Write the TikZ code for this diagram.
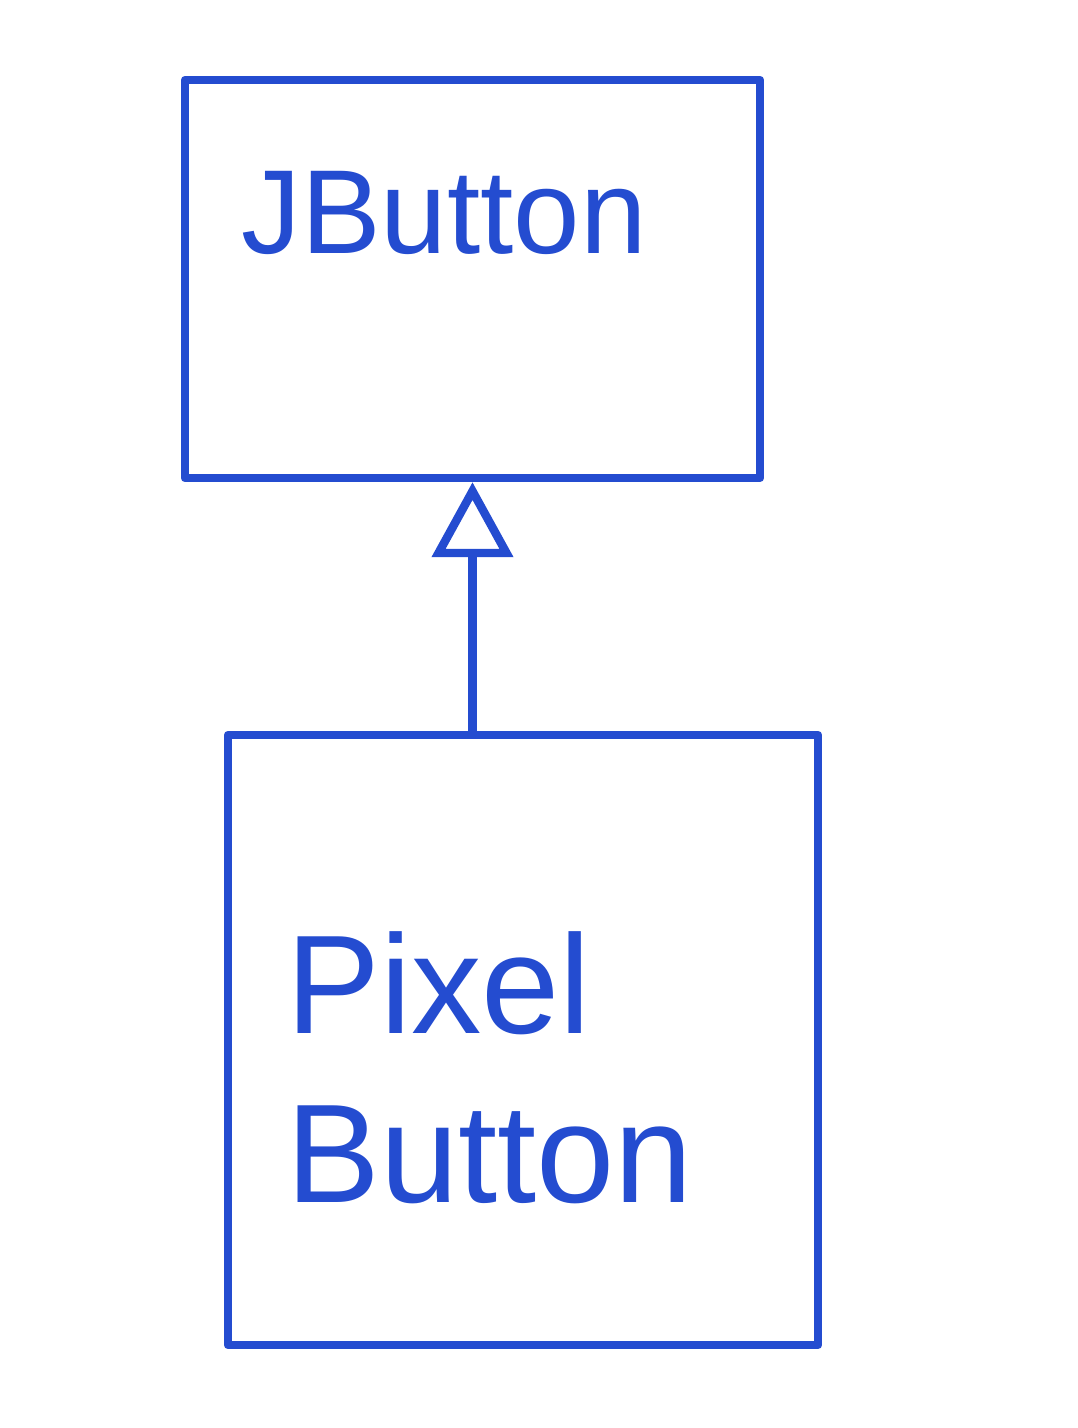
\documentclass[tikz,border=0pt]{standalone}
\usepackage{fontspec}
\setmainfont{Liberation Sans}
\usetikzlibrary{arrows.meta, positioning}
\definecolor{penblue}{RGB}{36,76,208}

\begin{document}
\begin{tikzpicture}[
    % Styles
    umlbox/.style={rectangle, draw=penblue, line width=2.4pt, line join=round, inner sep=0pt},
    classname/.style={text=penblue, font=\fontsize{40}{46}\selectfont, align=left, inner sep=0pt},
    inherit/.style={-{Triangle[open, length=0.75cm, width=0.8cm, line width=2.4pt]}, draw=penblue, line width=2.4pt, line cap=round}
]
\useasboundingbox (0,0) rectangle (10.78,14.28);

% 1. SUPERCLASS
\node[umlbox, minimum width=5.75cm, minimum height=3.98cm] (jbutton) at (4.725,11.49) {};
\node[classname, font=\fontsize{34}{40}\selectfont, anchor=north west] (jbuttonname) at ([xshift=0.6cm, yshift=-0.95cm]jbutton.north west) {JButton};

% 2. SUBCLASS
\node[umlbox, minimum width=5.9cm, minimum height=6.1cm] (pixel) at (5.23,3.88) {};
\node[classname, font=\fontsize{40}{48}\selectfont, anchor=north west] (pixelname) at ([xshift=0.62cm, yshift=-2.0cm]pixel.north west) {Pixel\\Button};

% INHERITANCE ARROW
\draw[inherit] (pixel.north -| jbutton.south) -- (jbutton.south);

\end{tikzpicture}
\end{document}
